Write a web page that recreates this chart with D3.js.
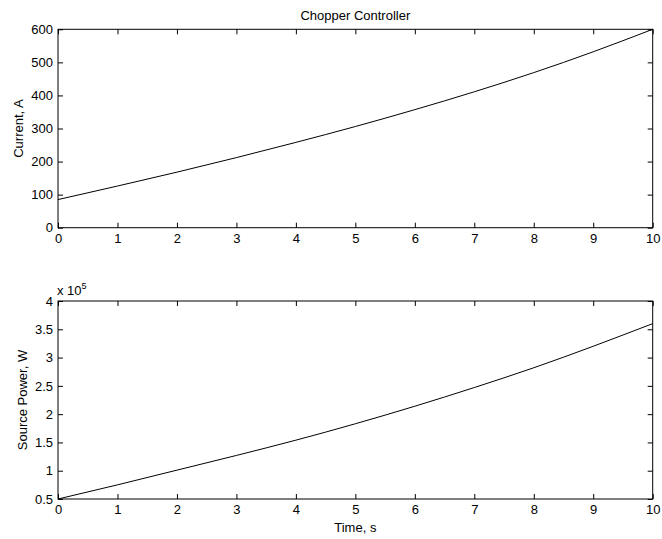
<!DOCTYPE html>
<html><head><meta charset="utf-8">
<script src="https://cdn.jsdelivr.net/npm/d3@7"></script>
<style>body{margin:0;background:#fff}svg{display:block}text{font-family:"Liberation Sans",Arial,sans-serif;fill:#000}</style>
</head><body><svg id="c" width="662" height="539"></svg>
<script>
const time = [0,1,2,3,4,5,6,7,8,9,10];
const current = [85,126,168,212,258,306,357,411,469,532,600];
const power = [0.50,0.75,1.01,1.27,1.54,1.83,2.14,2.47,2.82,3.20,3.60]; // x 10^5 W
const xTicks = [0,1,2,3,4,5,6,7,8,9,10];
const currentTicks = [0,100,200,300,400,500,600];
const powerTicks = [0.5,1,1.5,2,2.5,3,3.5,4];

const svg = d3.select("#c");
const L = 58, R = 652.7;
const FS = "13px";

function panel(top, bottom, yDomain, yTicks, yFmt, data, ylabel, ylabelX) {
  const x = d3.scaleLinear().domain([0,10]).range([L,R]);
  const y = d3.scaleLinear().domain(yDomain).range([bottom, top]);
  const g = svg.append("g");
  const tl = 5;
  const mk = (ax, tr) => {
    const a = g.append("g").attr("transform", tr).call(ax);
    a.select(".domain").remove();
    a.selectAll("line").attr("stroke","#000").attr("stroke-width",1);
    return a;
  };
  const bx = mk(d3.axisBottom(x).tickValues(xTicks).tickSize(-tl).tickPadding(6).tickFormat(d3.format("d")), `translate(0,${bottom})`);
  bx.selectAll("text").style("font-size",FS).attr("dy","0.71em");
  mk(d3.axisTop(x).tickValues(xTicks).tickSize(-tl).tickFormat(""), `translate(0,${top})`);
  const ly = mk(d3.axisLeft(y).tickValues(yTicks).tickSize(-tl).tickPadding(5).tickFormat(yFmt), `translate(${L},0)`);
  ly.selectAll("text").style("font-size",FS);
  mk(d3.axisRight(y).tickValues(yTicks).tickSize(-tl).tickFormat(""), `translate(${R},0)`);
  g.append("rect").attr("x",L).attr("y",top).attr("width",R-L).attr("height",bottom-top)
    .attr("fill","none").attr("stroke","#000").attr("stroke-width",1);
  g.selectAll(".tick text").attr("fill","#000");
  g.append("path").datum(time.map((t,i)=>[t,data[i]]))
    .attr("fill","none").attr("stroke","#000").attr("stroke-width",1)
    .attr("d", d3.line().x(d=>x(d[0])).y(d=>y(d[1])).curve(d3.curveNatural));
  g.append("text").attr("transform",`translate(${ylabelX},${(top+bottom)/2}) rotate(-90)`)
    .attr("text-anchor","middle").style("font-size",FS).text(ylabel);
  return {x,y};
}

panel(29.3, 227.7, [0,600], currentTicks, d3.format("d"), current, "Current, A", 23);
panel(301, 499, [0.5,4], powerTicks, d=>String(d), power, "Source Power, W", 27);

svg.append("text").attr("x",(L+R)/2).attr("y",20).attr("text-anchor","middle").style("font-size",FS).text("Chopper Controller");
svg.append("text").attr("x",(L+R)/2).attr("y",532).attr("text-anchor","middle").style("font-size",FS).text("Time, s");
const ex = svg.append("text").attr("x",57).attr("y",295).style("font-size",FS);
ex.append("tspan").text("x 10");
ex.append("tspan").attr("dy",-6).style("font-size","9px").text("5");
</script></body></html>
